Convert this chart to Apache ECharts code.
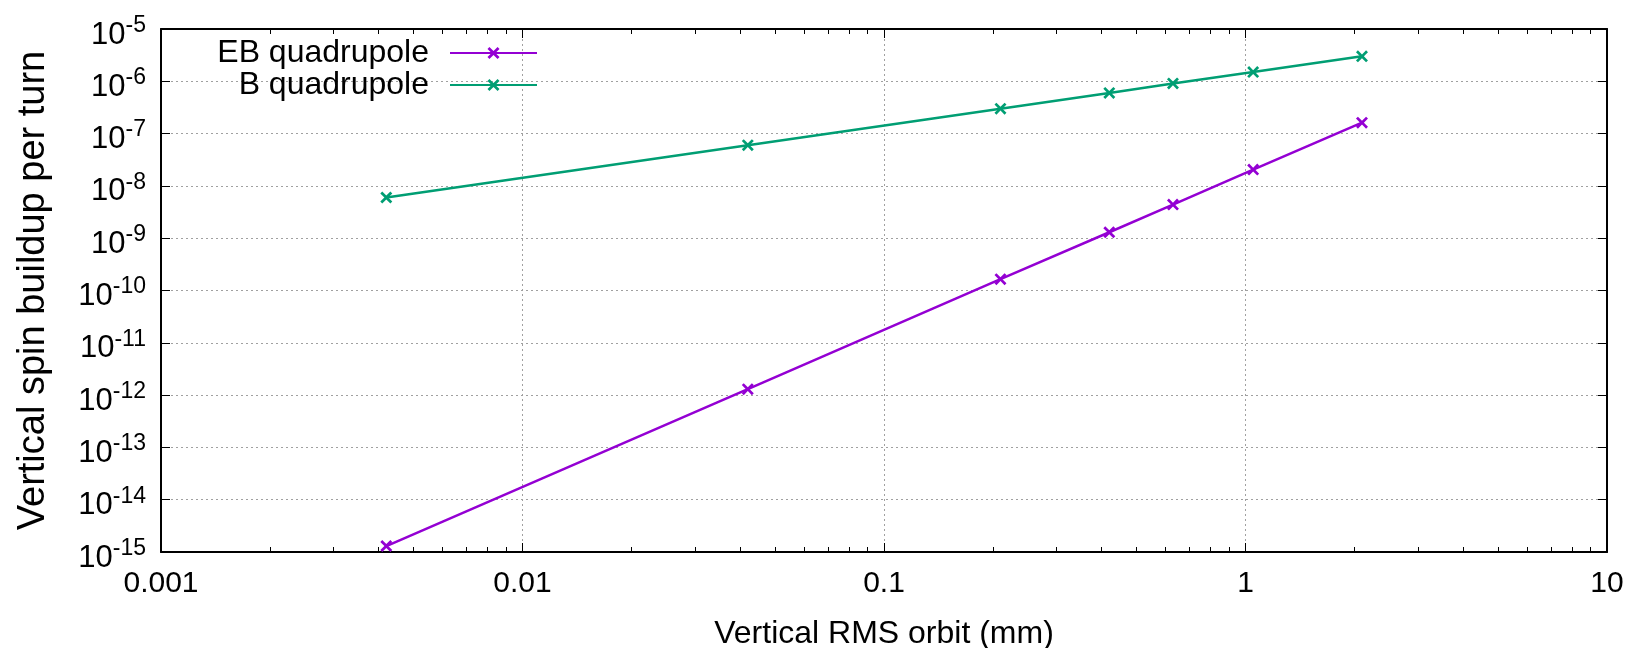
<!DOCTYPE html>
<html>
<head>
<meta charset="utf-8">
<script src="https://cdn.jsdelivr.net/npm/echarts@6/dist/echarts.min.js"></script>
<style>
  html, body { margin: 0; padding: 0; background: #fff; }
  #chart-container { width: 1640px; height: 648px; }
</style>
</head>
<body>
<div id="chart-container"></div>
<script>
var dom = document.getElementById("chart-container");
var myChart = echarts.init(dom, null, { renderer: "canvas" });

// data
const orbit = [0.0042, 0.042, 0.21, 0.42, 0.63, 1.05, 2.1];
const ebQuad = [1.3e-15, 1.3e-12, 1.65e-10, 1.3e-9, 4.4e-9, 2.05e-8, 1.62e-7];
const bQuad = [6.0e-9, 6.0e-8, 3.0e-7, 6.0e-7, 9.1e-7, 1.5e-6, 3.0e-6];
const xMinorTicks = [
  0.002, 0.003, 0.004, 0.005, 0.006, 0.007, 0.008, 0.009,
  0.02, 0.03, 0.04, 0.05, 0.06, 0.07, 0.08, 0.09,
  0.2, 0.3, 0.4, 0.5, 0.6, 0.7, 0.8, 0.9,
  2, 3, 4, 5, 6, 7, 8, 9,
];

const font = "Liberation Sans";
const cross =
  "path://M0,1.6L1.6,0L5,3.4L8.4,0L10,1.6L6.6,5L10,8.4L8.4,10L5,6.6L1.6,10L0,8.4L3.4,5Z";

function pairs(xs, ys) {
  return xs.map((x, i) => [x, ys[i]]);
}

const gridLine = { show: true, lineStyle: { color: "#a0a0a0", width: 1, type: [2, 3] } };
const frame = { show: true, lineStyle: { color: "#000", width: 2 } };

function xAxisBase(pos) {
  return {
    type: "log",
    logBase: 10,
    min: 0.001,
    max: 10,
    interval: 1,
    position: pos,
    axisLine: { show: false },
    axisLabel: { show: false },
    splitLine: { show: false },
    axisTick: { show: false },
  };
}

var option = {
  animation: false,
  textStyle: { fontFamily: font },
  grid: { left: 161, right: 33, top: 29, bottom: 96, containLabel: false, outerBoundsMode: "none" },
  legend: {
    right: 1097,
    top: 32,
    orient: "vertical",
    align: "right",
    itemWidth: 87,
    itemHeight: 15,
    itemGap: 0,
    textStyle: { fontSize: 32, fontFamily: font, color: "#000", padding: [0, 16, 0, 0] },
    data: ["EB quadrupole", "B quadrupole"],
  },
  xAxis: [
    Object.assign(xAxisBase("bottom"), {
      name: "Vertical RMS orbit (mm)",
      nameLocation: "middle",
      nameGap: 66,
      nameTextStyle: { fontSize: 32, color: "#000", fontFamily: font },
      axisLine: frame,
      axisTick: { show: true, inside: true, length: 9, lineStyle: { color: "#000", width: 1 } },
      axisLabel: {
        show: true,
        margin: 17,
        fontSize: 30,
        color: "#000",
        fontFamily: font,
        formatter: (v) => String(+v.toPrecision(3)),
      },
      splitLine: gridLine,
    }),
    Object.assign(xAxisBase("bottom"), {
      axisTick: {
        show: true, inside: true, length: 5, customValues: xMinorTicks,
        lineStyle: { color: "#000", width: 1 },
      },
    }),
    Object.assign(xAxisBase("top"), {
      axisLine: frame,
      axisTick: { show: true, inside: true, length: 9, lineStyle: { color: "#000", width: 1 } },
    }),
    Object.assign(xAxisBase("top"), {
      axisTick: {
        show: true, inside: true, length: 5, customValues: xMinorTicks,
        lineStyle: { color: "#000", width: 1 },
      },
    }),
  ],
  yAxis: [
    {
      type: "log",
      logBase: 10,
      min: 1e-15,
      max: 1e-5,
      interval: 1,
      position: "left",
      name: "Vertical spin buildup per turn",
      nameLocation: "middle",
      nameRotate: 90,
      nameGap: 108,
      nameTextStyle: { fontSize: 38, color: "#000", fontFamily: font },
      axisLine: frame,
      axisTick: { show: true, inside: true, length: 9, lineStyle: { color: "#000", width: 1 } },
      axisLabel: {
        margin: 15,
        formatter: (v) => "{b|10}{s|" + Math.round(Math.log10(v)) + "}",
        rich: {
          b: { fontSize: 31, lineHeight: 30, color: "#000", fontFamily: font, padding: [12, 0, 0, 0] },
          s: { fontSize: 23, lineHeight: 22, color: "#000", fontFamily: font, verticalAlign: "top" },
        },
      },
      splitLine: gridLine,
    },
    {
      type: "log",
      logBase: 10,
      min: 1e-15,
      max: 1e-5,
      interval: 1,
      position: "right",
      axisLine: frame,
      axisLabel: { show: false },
      splitLine: { show: false },
      axisTick: { show: true, inside: true, length: 9, lineStyle: { color: "#000", width: 1 } },
    },
  ],
  series: [
    {
      name: "EB quadrupole",
      type: "line",
      xAxisIndex: 0,
      yAxisIndex: 0,
      data: pairs(orbit, ebQuad),
      symbol: cross,
      symbolSize: 12,
      itemStyle: { color: "#9400d3" },
      lineStyle: { color: "#9400d3", width: 2.5 },
      z: 5,
    },
    {
      name: "B quadrupole",
      type: "line",
      xAxisIndex: 0,
      yAxisIndex: 0,
      data: pairs(orbit, bQuad),
      symbol: cross,
      symbolSize: 12,
      itemStyle: { color: "#009e73" },
      lineStyle: { color: "#009e73", width: 2.5 },
      z: 5,
    },
  ],
};

myChart.setOption(option);
window.addEventListener("resize", myChart.resize);
</script>
</body>
</html>
